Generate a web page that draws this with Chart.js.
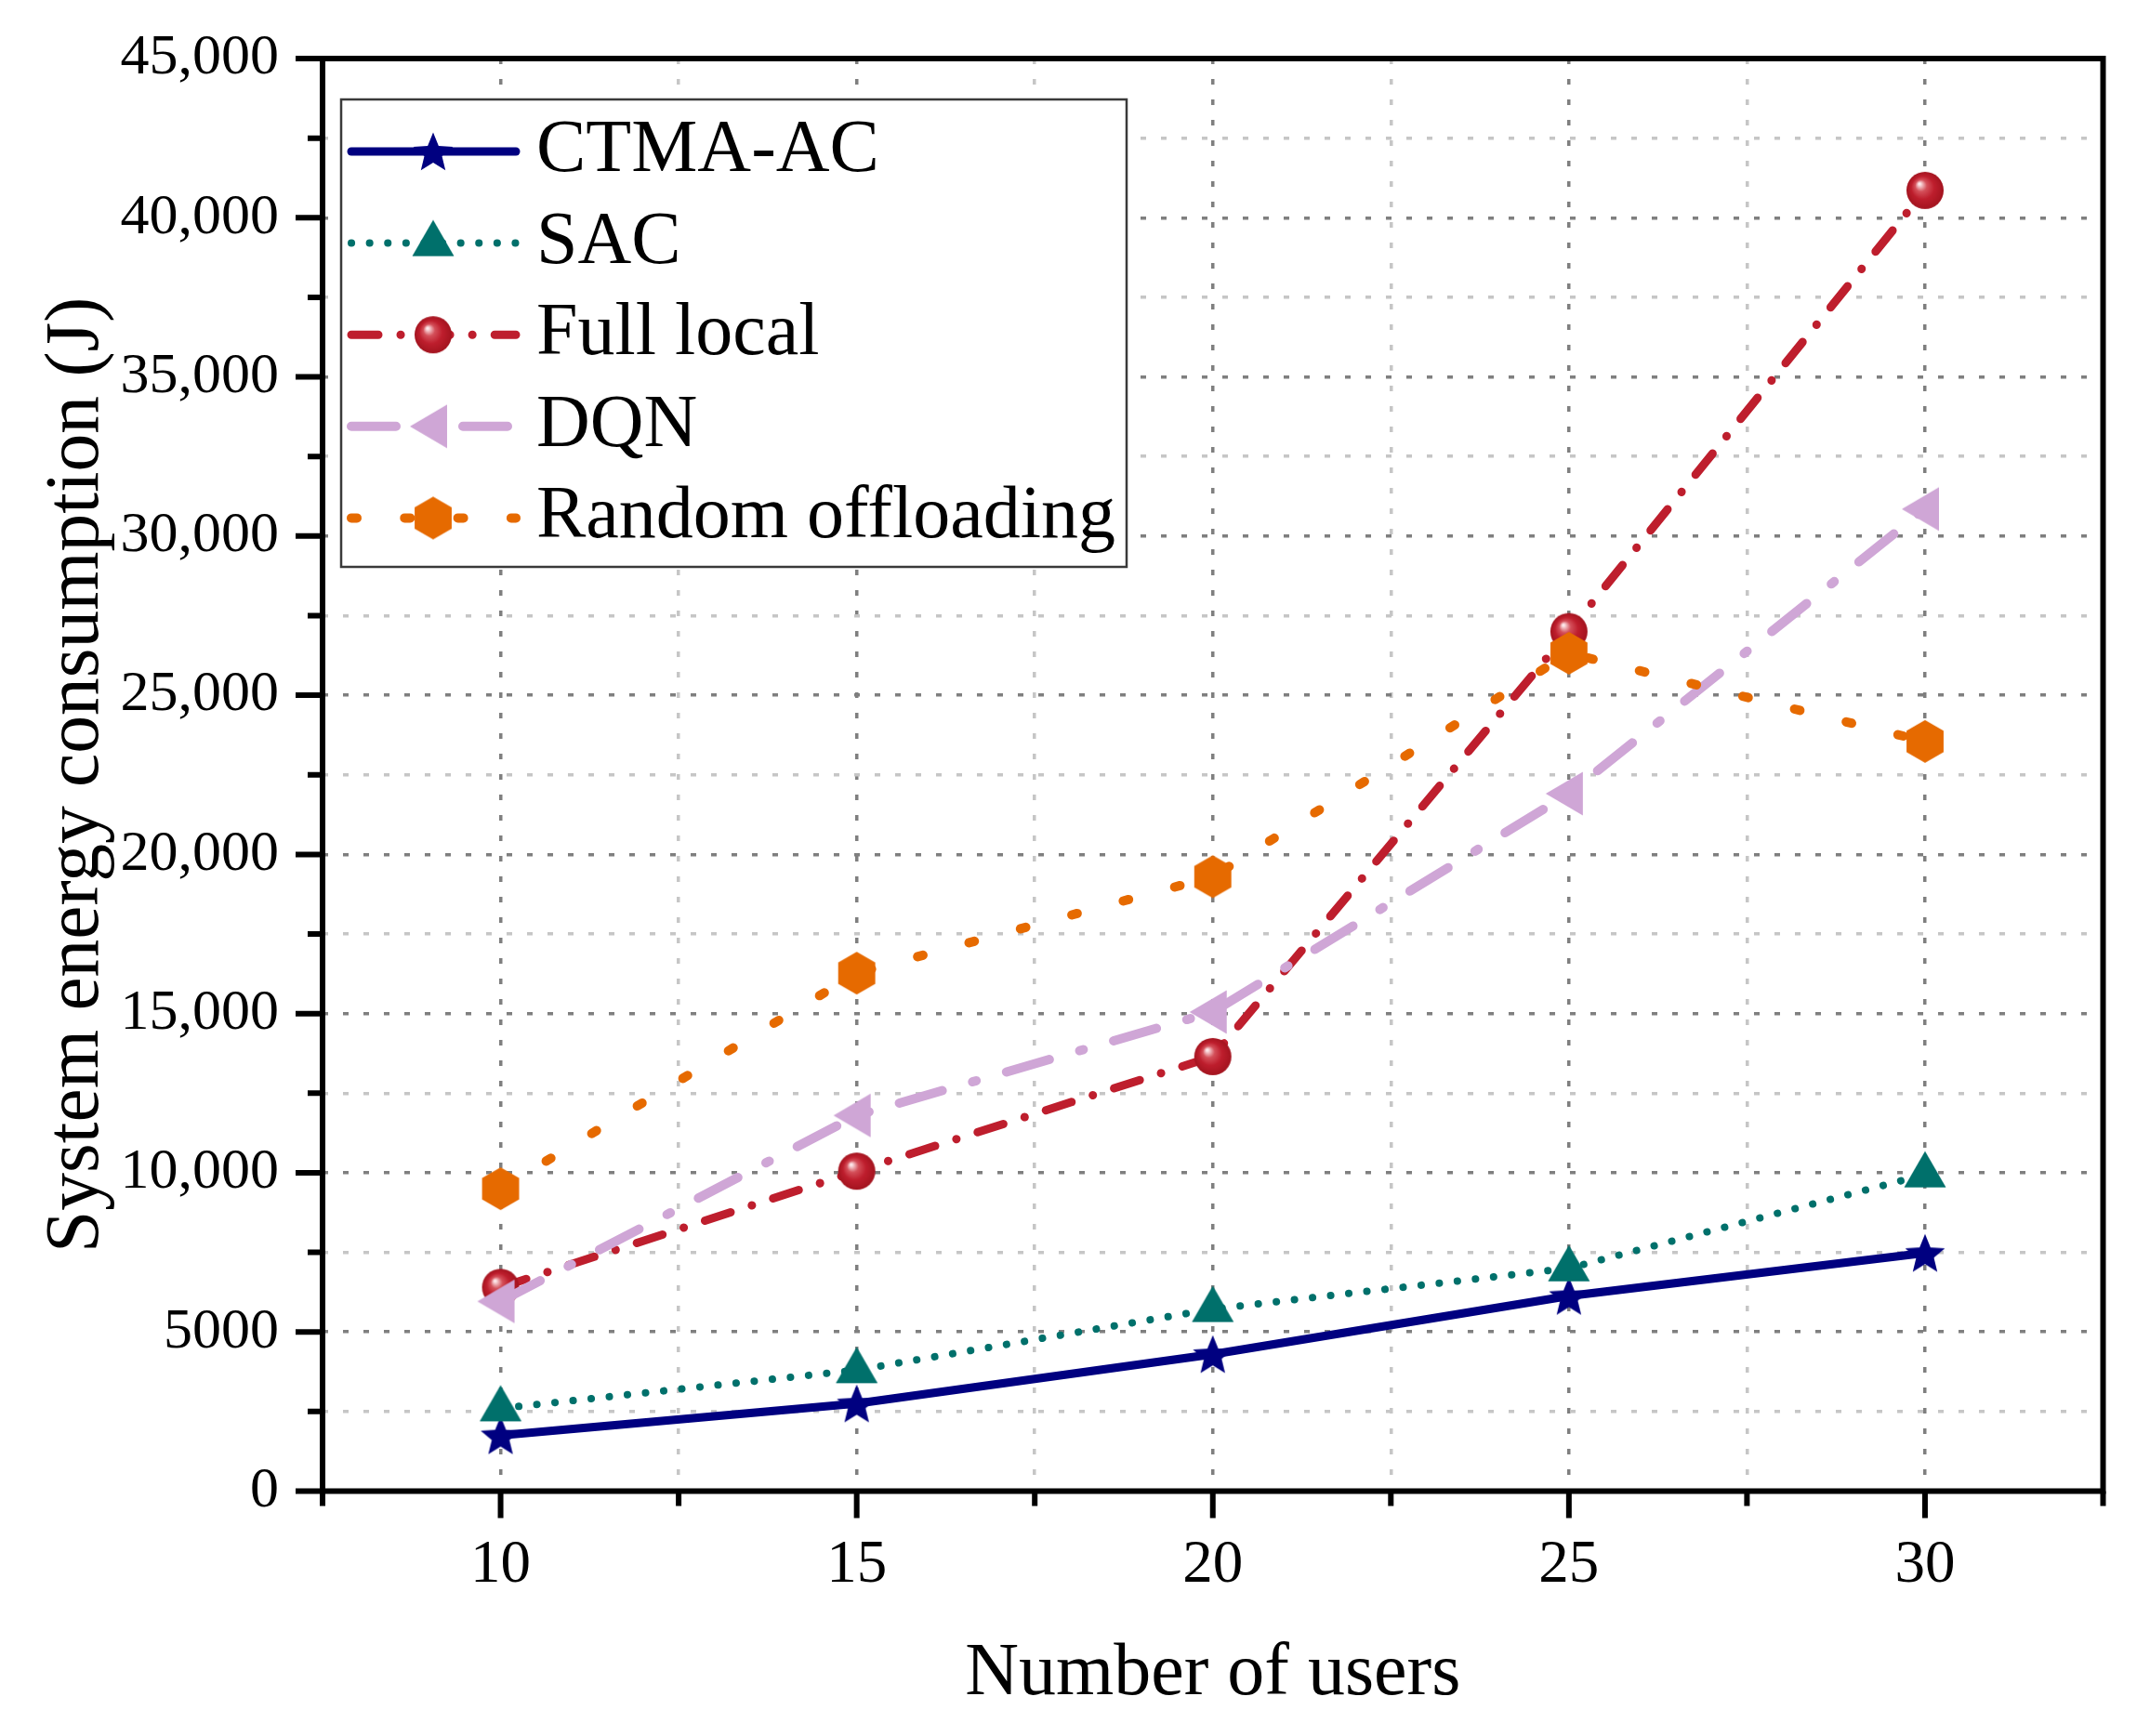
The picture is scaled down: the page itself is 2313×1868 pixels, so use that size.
<!DOCTYPE html>
<html>
<head>
<meta charset="utf-8">
<title>System energy consumption</title>
<script src="https://cdn.jsdelivr.net/npm/chart.js@4.4.1/dist/chart.umd.min.js"></script>
<style>
  html, body { margin: 0; padding: 0; background: #fff; }
  #wrap { width: 2313px; height: 1868px; }
</style>
</head>
<body>
<div id="wrap"><canvas id="grafica" width="2313" height="1868"></canvas></div>
<script>
// ── Data ─────────────────────────────────────────────────────────────────────
const users      = [10, 15, 20, 25, 30];
const ctmaAC     = [1750, 2750, 4300, 6130, 7480];
const sac        = [2600, 3800, 5720, 7000, 9950];
const fullLocal  = [6400, 10050, 13650, 27000, 40860];
const dqn        = [5960, 11800, 15050, 21910, 30850];
const randomOff  = [9500, 16270, 19300, 26320, 23550];

const seriesNames = ['CTMA-AC', 'SAC', 'Full local', 'DQN', 'Random offloading'];
const xTickLabels = ['10', '15', '20', '25', '30'];
const yTickLabels = ['0', '5000', '10,000', '15,000', '20,000', '25,000',
                     '30,000', '35,000', '40,000', '45,000'];

const FONT = '"Liberation Serif", "Times New Roman", serif';
Chart.defaults.font.family = FONT;
Chart.defaults.color = '#000';

// ── Markers (small canvases used as pointStyle) ─────────────────────────────
function marcador(size, draw) {
    const c = document.createElement('canvas');
    c.width = size;
    c.height = size;
    const g = c.getContext('2d');
    g.translate(size / 2, size / 2);
    draw(g);
    return c;
}

const estrella = marcador(50, g => {
    g.beginPath();
    for (let i = 0; i < 10; i++) {
        const r = i % 2 === 0 ? 22.5 : 10;
        const a = -Math.PI / 2 + i * Math.PI / 5;
        g.lineTo(r * Math.cos(a), r * Math.sin(a) + 2);
    }
    g.closePath();
    g.fillStyle = '#000080';
    g.fill();
});

const trianguloArriba = marcador(54, g => {
    g.beginPath();
    g.moveTo(0, -25);
    g.lineTo(22.5, 14);
    g.lineTo(-22.5, 14);
    g.closePath();
    g.fillStyle = '#00706b';
    g.fill();
});

const esfera = marcador(46, g => {
    const grad = g.createRadialGradient(-6, -7, 1, 0, 0, 20);
    grad.addColorStop(0, '#fde8ea');
    grad.addColorStop(0.28, '#d4505a');
    grad.addColorStop(0.6, '#be1e2d');
    grad.addColorStop(1, '#a3141f');
    g.beginPath();
    g.arc(0, 0, 20, 0, Math.PI * 2);
    g.fillStyle = grad;
    g.fill();
});

const trianguloIzq = marcador(56, g => {
    g.beginPath();
    g.moveTo(-25, 0);
    g.lineTo(15, -23.5);
    g.lineTo(15, 23.5);
    g.closePath();
    g.fillStyle = '#cfa6d6';
    g.fill();
});

const hexagono = marcador(52, g => {
    g.beginPath();
    for (let i = 0; i < 6; i++) {
        const a = -Math.PI / 2 + i * Math.PI / 3;
        g.lineTo(23 * Math.cos(a), 23 * Math.sin(a));
    }
    g.closePath();
    g.fillStyle = '#e66a00';
    g.fill();
});

// ── Dataset factory ──────────────────────────────────────────────────────────
function serie(label, data, color, width, dash, marker, order) {
    return {
        label: label,
        data: users.map((u, i) => ({ x: u, y: data[i] })),
        borderColor: color,
        backgroundColor: color,
        borderWidth: width,
        borderDash: dash,
        borderCapStyle: 'round',
        borderJoinStyle: 'round',
        pointStyle: marker,
        pointRadius: 20,
        pointHoverRadius: 20,
        tension: 0,
        fill: false,
        order: order,
    };
}

// ── Legend inside the plot ───────────────────────────────────────────────────
const leyenda = {
    id: 'leyenda',
    afterDatasetsDraw(chart) {
        const { ctx, chartArea: a } = chart;
        const bx = a.left + 20, by = a.top + 44, bw = 845, bh = 503;
        ctx.save();
        ctx.fillStyle = '#fff';
        ctx.fillRect(bx, by, bw, bh);
        ctx.strokeStyle = '#3a3a3a';
        ctx.lineWidth = 2.5;
        ctx.strokeRect(bx, by, bw, bh);

        chart.data.datasets.forEach((ds, i) => {
            const cy = by + 56 + i * 98.6;
            const x1 = bx + 11, x2 = bx + 188, xm = bx + 99;
            ctx.save();
            ctx.strokeStyle = ds.borderColor;
            ctx.lineWidth = ds.borderWidth;
            ctx.lineCap = 'round';
            ctx.setLineDash(ds.borderDash);
            ctx.beginPath();
            ctx.moveTo(x1, cy);
            ctx.lineTo(x2, cy);
            ctx.stroke();
            ctx.restore();
            const m = ds.pointStyle;
            ctx.drawImage(m, xm - m.width / 2, cy - m.height / 2);
            ctx.fillStyle = '#000';
            ctx.font = '80px ' + FONT;
            ctx.textBaseline = 'middle';
            ctx.textAlign = 'left';
            ctx.fillText(ds.label, bx + 210, cy);
        });
        ctx.restore();
    }
};

// ── Frame and tick marks ─────────────────────────────────────────────────────
const marcoEjes = {
    id: 'marcoEjes',
    afterDraw(chart) {
        const { ctx, chartArea: a, scales: { x, y } } = chart;
        ctx.save();
        ctx.strokeStyle = '#000';
        ctx.lineWidth = 6;
        ctx.lineCap = 'butt';
        ctx.beginPath();
        y.ticks.forEach(t => {
            const py = y.getPixelForValue(t.value);
            const len = t.value % 5000 === 0 ? 29 : 16;
            ctx.moveTo(a.left, py);
            ctx.lineTo(a.left - len, py);
        });
        x.ticks.forEach(t => {
            const px = x.getPixelForValue(t.value);
            const k = (t.value - 10) / 5;
            const len = Math.abs(k - Math.round(k)) < 1e-6 ? 29 : 16;
            ctx.moveTo(px, a.bottom);
            ctx.lineTo(px, a.bottom + len);
        });
        ctx.stroke();
        ctx.lineJoin = 'miter';
        ctx.strokeRect(a.left, a.top, a.right - a.left, a.bottom - a.top);
        ctx.restore();
    }
};

function colorGrid(esMayor) {
    return esMayor ? '#7f7f7f' : '#c6c6c6';
}

function etiquetaX(v) {
    const k = Math.round((v - 10) / 5);
    if (Math.abs(v - (10 + 5 * k)) > 1e-6) return '';
    return xTickLabels[k] !== undefined ? xTickLabels[k] : '';
}

// ── Chart ────────────────────────────────────────────────────────────────────
new Chart(document.getElementById('grafica'), {
    type: 'line',
    data: {
        datasets: [
            serie(seriesNames[0], ctmaAC,    '#000080', 9,  [],                 estrella,        5),
            serie(seriesNames[1], sac,       '#00706b', 8,  [0.1, 19.5],        trianguloArriba, 4),
            serie(seriesNames[2], fullLocal, '#be1e2d', 9,  [29, 24, 0.1, 24],  esfera,          3),
            serie(seriesNames[3], dqn,       '#cfa6d6', 10, [48, 34, 4, 34],    trianguloIzq,    2),
            serie(seriesNames[4], randomOff, '#e66a00', 10, [6, 51.3],          hexagono,        1),
        ]
    },
    options: {
        responsive: false,
        animation: false,
        devicePixelRatio: 1,
        layout: { padding: { top: 63, right: 50.5, left: 0, bottom: 0 } },
        plugins: {
            legend: { display: false },
            tooltip: { enabled: false },
        },
        scales: {
            x: {
                type: 'linear',
                min: 7.5,
                max: 32.5,
                afterFit: s => {
                    s.height = 263.5;
                    s.paddingLeft = 0;
                    s.paddingRight = 0;
                },
                grid: {
                    color: c => colorGrid(etiquetaX(c.tick.value) !== ''),
                    lineWidth: 3.5,
                    drawTicks: false,
                },
                border: { display: false, dash: [6, 16] },
                ticks: {
                    stepSize: 2.5,
                    autoSkip: false,
                    maxRotation: 0,
                    padding: 41,
                    color: '#000',
                    font: { size: 65 },
                    callback: v => etiquetaX(v),
                },
                title: {
                    display: true,
                    text: 'Number of users',
                    color: '#000',
                    font: { size: 80 },
                    padding: { top: 0, bottom: 18 },
                },
            },
            y: {
                min: 0,
                max: 45000,
                afterFit: s => {
                    s.width = 347;
                    s.paddingTop = 0;
                    s.paddingBottom = 0;
                },
                grid: {
                    color: c => colorGrid(c.tick.value % 5000 === 0),
                    lineWidth: 3.5,
                    drawTicks: false,
                },
                border: { display: false, dash: [6, 16] },
                ticks: {
                    stepSize: 2500,
                    autoSkip: false,
                    padding: 47,
                    color: '#000',
                    font: { size: 62 },
                    callback: v => v % 5000 === 0 ? yTickLabels[v / 5000] : '',
                },
                title: {
                    display: true,
                    text: 'System energy consumption (J)',
                    color: '#000',
                    font: { size: 81.5 },
                    padding: { top: 35, bottom: 0 },
                },
            },
        },
    },
    plugins: [leyenda, marcoEjes],
});
</script>
</body>
</html>
